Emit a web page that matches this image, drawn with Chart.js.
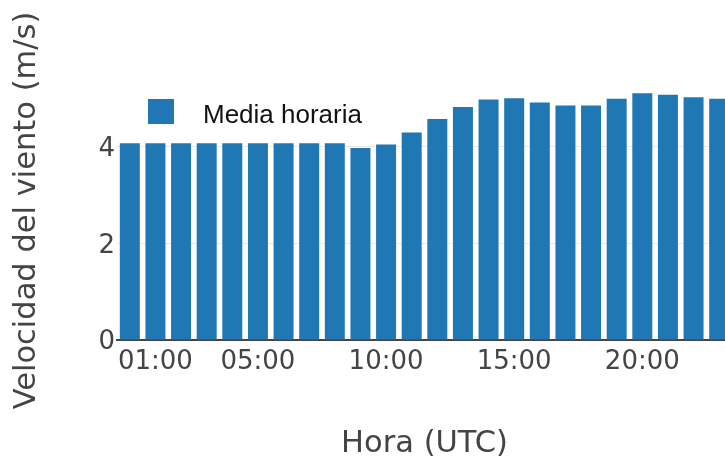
<!DOCTYPE html>
<html>
<head>
<meta charset="utf-8">
<script src="https://cdn.jsdelivr.net/npm/chart.js@4"></script>
<style>
  html, body { margin: 0; padding: 0; background: #fff; overflow: hidden; }
  canvas { display: block; }
</style>
</head>
<body>
<canvas id="chart" width="732" height="460"></canvas>
<script>
// hourly mean wind speed
const HOURS = ['00:00', '01:00', '02:00', '03:00', '04:00', '05:00', '06:00', '07:00',
               '08:00', '09:00', '10:00', '11:00', '12:00', '13:00', '14:00', '15:00',
               '16:00', '17:00', '18:00', '19:00', '20:00', '21:00', '22:00', '23:00'];
const SPEED = [4.07, 4.07, 4.07, 4.07, 4.07, 4.07, 4.07, 4.07,
               4.07, 3.97, 4.04, 4.29, 4.57, 4.82, 4.97, 5.00,
               4.91, 4.85, 4.85, 4.99, 5.10, 5.07, 5.02, 4.99];
const X_TICKS = ['01:00', '05:00', '10:00', '15:00', '20:00'];
const Y_TICKS = [0, 2, 4];
const Y_MAX = 5.355;

const BAR_COLOR = '#1f77b4';
const AXIS_FONT = 'DejaVu Sans';

// legend marker: square on the left, empty room on the right for the gap to the text
const marker = document.createElement('canvas');
marker.width = 42;
marker.height = 34;
const mctx = marker.getContext('2d');
mctx.fillStyle = BAR_COLOR;
mctx.fillRect(0, 0, 26, 25);

// put the legend in the top-left corner of the plot, like plotly does
const placeLegend = {
    id: 'placeLegend',
    afterLayout(chart) {
        const lg = chart.legend;
        lg.left = 138;
        lg.top = 93;
        lg.right = lg.left + lg.width;
        lg.bottom = lg.top + 60;
    }
};

new Chart(document.getElementById('chart'), {
    type: 'bar',
    data: {
        labels: HOURS,
        datasets: [{
            label: 'Media horaria',
            data: SPEED,
            backgroundColor: BAR_COLOR,
            borderWidth: 0,
            barPercentage: 0.78,
            categoryPercentage: 1.0
        }]
    },
    options: {
        responsive: false,
        animation: false,
        devicePixelRatio: 1,
        layout: { padding: { top: 81, left: 0, right: 0, bottom: 0 } },
        plugins: {
            tooltip: { enabled: false },
            legend: {
                position: 'chartArea',
                align: 'start',
                labels: {
                    usePointStyle: true,
                    pointStyle: marker,
                    pointStyleWidth: 42,
                    padding: 10,
                    color: '#111',
                    font: { family: 'Liberation Sans', size: 26 }
                }
            }
        },
        scales: {
            x: {
                grid: { display: true, color: 'transparent', drawTicks: false },
                border: { display: true, color: '#444', width: 2 },
                ticks: {
                    autoSkip: false,
                    maxRotation: 0,
                    padding: 7,
                    color: '#444',
                    font: { family: AXIS_FONT, size: 26 },
                    callback: function (v, i) {
                        const lab = HOURS[i];
                        return X_TICKS.includes(lab) ? lab : '';
                    }
                },
                title: {
                    display: true,
                    text: 'Hora (UTC)',
                    color: '#444',
                    font: { family: AXIS_FONT, size: 30.5, lineHeight: 1 },
                    padding: { top: 0, bottom: 1 }
                },
                afterFit: function (s) { s.height = 120; }
            },
            y: {
                min: 0,
                max: Y_MAX,
                grid: { color: '#e8e8e8', drawTicks: false },
                border: { display: false },
                ticks: {
                    padding: 2,
                    labelOffset: 2.5,
                    color: '#444',
                    font: { family: AXIS_FONT, size: 26 }
                },
                afterBuildTicks: function (s) {
                    s.ticks = Y_TICKS.map(v => ({ value: v }));
                },
                title: {
                    display: true,
                    text: 'Velocidad del viento (m/s)',
                    color: '#444',
                    font: { family: AXIS_FONT, size: 30.5, lineHeight: 1 },
                    padding: { top: 12, bottom: 0 }
                },
                afterFit: function (s) { s.width = 117; }
            }
        }
    },
    plugins: [placeLegend]
});
</script>
</body>
</html>
